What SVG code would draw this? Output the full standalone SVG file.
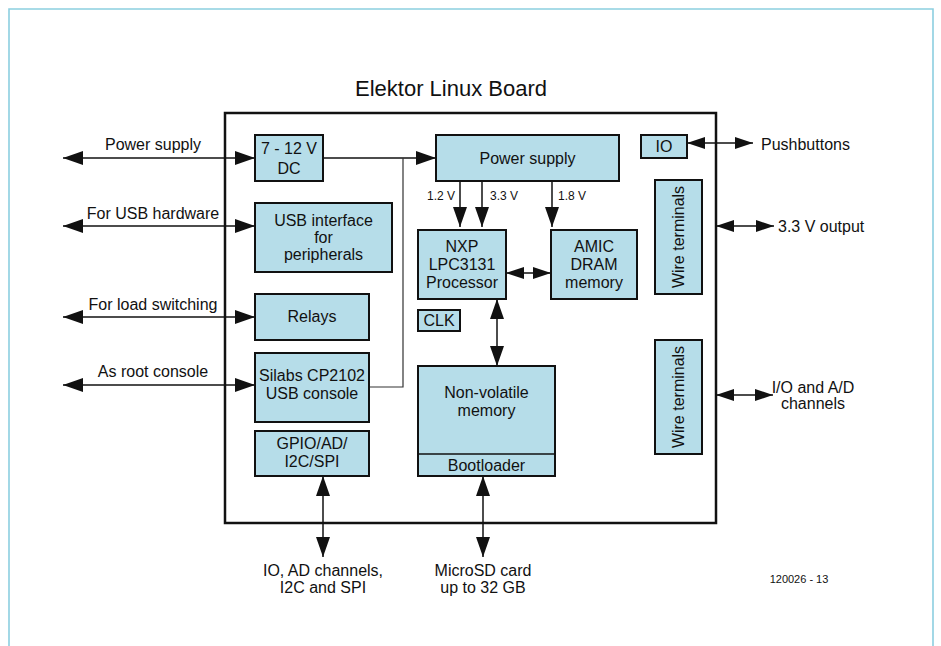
<svg xmlns="http://www.w3.org/2000/svg" width="941" height="646" viewBox="0 0 941 646">
<defs>
<style>
text{font-family:"Liberation Sans",Arial,sans-serif;fill:#111;}
.t{font-size:16px;text-anchor:middle;}
.l{font-size:16px;}
.s{font-size:12px;}
.box{fill:#b6dde9;stroke:#111;stroke-width:2;}
.c{stroke:#111;stroke-width:1.5;fill:none;}
.thin{stroke:#333;stroke-width:1.2;fill:none;}
</style>
<marker id="ah" markerUnits="userSpaceOnUse" markerWidth="20" markerHeight="14" viewBox="0 0 20 14" refX="20" refY="7" orient="auto-start-reverse">
<path d="M0,0 L20,7 L0,14 z" fill="#111"/>
</marker>
<marker id="as" markerUnits="userSpaceOnUse" markerWidth="18" markerHeight="12" viewBox="0 0 18 12" refX="18" refY="6" orient="auto-start-reverse">
<path d="M0,0 L18,6 L0,12 z" fill="#111"/>
</marker>
</defs>
<rect x="0" y="0" width="941" height="646" fill="#fff"/>
<path d="M9,646 V9 H933 V646" fill="none" stroke="#8ccfe0" stroke-width="1.6"/>
<text x="451" y="96" style="font-size:22px;text-anchor:middle">Elektor Linux Board</text>
<rect id="board" x="225" y="113" width="491" height="410" fill="none" stroke="#111" stroke-width="2.5"/>

<g id="connectors">
<line class="c" x1="63" y1="158" x2="255" y2="158" marker-start="url(#ah)" marker-end="url(#ah)"/>
<line class="c" x1="63" y1="226" x2="255" y2="226" marker-start="url(#ah)" marker-end="url(#ah)"/>
<line class="c" x1="63" y1="317" x2="255" y2="317" marker-start="url(#ah)" marker-end="url(#ah)"/>
<line class="c" x1="63" y1="385" x2="255" y2="385" marker-start="url(#ah)" marker-end="url(#ah)"/>
<line class="c" x1="323" y1="158" x2="436" y2="158" marker-end="url(#ah)"/>
<path class="thin" d="M369,387 H403 V158"/>
<line class="c" x1="460" y1="181" x2="460" y2="227" marker-end="url(#ah)"/>
<line class="c" x1="482" y1="181" x2="482" y2="227" marker-end="url(#ah)"/>
<line class="c" x1="552" y1="181" x2="552" y2="227" marker-end="url(#ah)"/>
<line class="c" x1="506" y1="273" x2="551" y2="273" marker-start="url(#as)" marker-end="url(#as)"/>
<line class="c" x1="497" y1="299" x2="497" y2="366" marker-start="url(#ah)" marker-end="url(#ah)"/>
<line class="c" x1="483" y1="476" x2="483" y2="557" marker-start="url(#ah)" marker-end="url(#ah)"/>
<line class="c" x1="323" y1="476" x2="323" y2="557" marker-start="url(#ah)" marker-end="url(#ah)"/>
<line class="c" x1="687" y1="143" x2="753" y2="143" marker-start="url(#as)" marker-end="url(#as)"/>
<line class="c" x1="716" y1="226" x2="774" y2="226" marker-start="url(#as)" marker-end="url(#as)"/>
<line class="c" x1="716" y1="395" x2="773" y2="395" marker-start="url(#as)" marker-end="url(#as)"/>
</g>

<g id="dc"><rect class="box" x="255" y="135" width="68" height="46"/><text class="t" x="289" y="154">7 - 12 V</text><text class="t" x="289" y="174">DC</text></g>
<g id="usb"><rect class="box" x="255" y="203" width="137" height="69"/><text class="t" x="323.5" y="226">USB interface</text><text class="t" x="323.5" y="243">for</text><text class="t" x="323.5" y="260">peripherals</text></g>
<g id="relays"><rect class="box" x="255" y="294" width="114" height="46"/><text class="t" x="312" y="322">Relays</text></g>
<g id="silabs"><rect class="box" x="255" y="353" width="114" height="69"/><text class="t" x="312" y="381">Silabs CP2102</text><text class="t" x="312" y="399">USB console</text></g>
<g id="gpio"><rect class="box" x="255" y="431" width="114" height="45"/><text class="t" x="312" y="449">GPIO/AD/</text><text class="t" x="312" y="467">I2C/SPI</text></g>
<g id="psu"><rect class="box" x="436" y="135" width="183" height="46"/><text class="t" x="527.5" y="164">Power supply</text></g>
<g id="io"><rect class="box" x="641" y="135" width="46" height="23"/><text class="t" x="664" y="152">IO</text></g>
<g id="nxp"><rect class="box" x="418" y="230" width="88" height="69"/><text class="t" x="462" y="252">NXP</text><text class="t" x="462" y="270">LPC3131</text><text class="t" x="462" y="288">Processor</text></g>
<g id="amic"><rect class="box" x="551" y="230" width="86" height="69"/><text class="t" x="594" y="252">AMIC</text><text class="t" x="594" y="270">DRAM</text><text class="t" x="594" y="288">memory</text></g>
<g id="clk"><rect class="box" x="418" y="310" width="42" height="21"/><text class="t" x="439" y="326">CLK</text></g>
<g id="nvm"><rect class="box" x="418" y="366" width="137" height="110"/><line x1="418" y1="454" x2="555" y2="454" stroke="#111" stroke-width="1.5"/><text class="t" x="486.5" y="398">Non-volatile</text><text class="t" x="486.5" y="416">memory</text><text class="t" x="486.5" y="471">Bootloader</text></g>
<g id="wt1"><rect class="box" x="655" y="180" width="47" height="114"/><text class="t" transform="translate(684,237) rotate(-90)" x="0" y="0">Wire terminals</text></g>
<g id="wt2"><rect class="box" x="655" y="340" width="47" height="114"/><text class="t" transform="translate(684,397) rotate(-90)" x="0" y="0">Wire terminals</text></g>

<g id="labels">
<text class="t" x="153" y="150">Power supply</text>
<text class="t" x="153" y="219">For USB hardware</text>
<text class="t" x="153" y="310">For load switching</text>
<text class="t" x="153" y="377">As root console</text>
<text class="s" x="427" y="200">1.2 V</text>
<text class="s" x="490" y="200">3.3 V</text>
<text class="s" x="558" y="200">1.8 V</text>
<text class="l" x="761" y="150">Pushbuttons</text>
<text class="l" x="778" y="232">3.3 V output</text>
<text class="t" x="813" y="393">I/O and A/D</text>
<text class="t" x="813" y="409">channels</text>
<text class="t" x="323" y="576">IO, AD channels,</text>
<text class="t" x="323" y="593">I2C and SPI</text>
<text class="t" x="483" y="576">MicroSD card</text>
<text class="t" x="483" y="593">up to 32 GB</text>
<text x="799" y="583" style="font-size:11px;text-anchor:middle">120026 - 13</text>
</g>
</svg>
